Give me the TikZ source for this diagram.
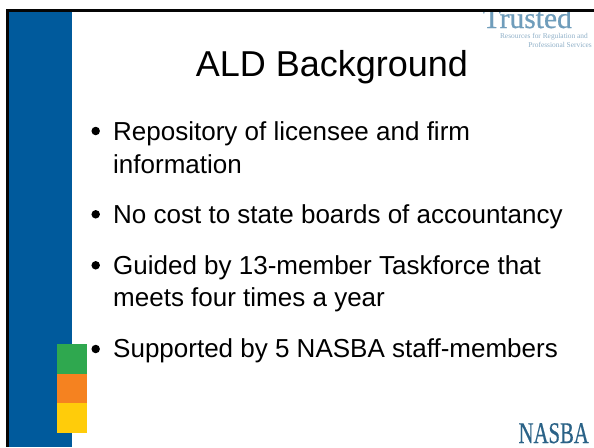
\documentclass[tikz,border=0pt]{standalone}
\usepackage{graphicx}
\usepackage{fontspec}
\setmainfont{Liberation Sans}
\newfontfamily\serifl{Liberation Serif}
\newfontfamily\serifh[FakeBold=0.6]{Liberation Serif}
\definecolor{slateblue}{HTML}{005A9C}
\definecolor{barblack}{HTML}{050505}
\definecolor{tgreen}{HTML}{2FA84F}
\definecolor{torange}{HTML}{F58220}
\definecolor{tyellow}{HTML}{FFCC0A}
\definecolor{logoblue}{HTML}{6F9DBB}
\definecolor{logosmall}{HTML}{8FB0C8}
\definecolor{logonavy}{HTML}{2A6287}
\tikzset{
  x=1pt,y=-1pt,
  bodytext/.style={anchor=base west,inner sep=0pt,font=\fontsize{26}{31}\selectfont,align=left,text=black},
  bulletmark/.style={circle,fill=black,inner sep=0pt,minimum size=8.5pt},
  swatch/.style={inner sep=0pt,outer sep=0pt,anchor=north west,minimum width=30pt,minimum height=29.7pt},
  logosub/.style={anchor=base east,inner sep=0pt,text=logosmall,font=\serifl\fontsize{7.4}{8}\selectfont}
}
\begin{document}
\begin{tikzpicture}
\useasboundingbox (0,0) rectangle (594,447);
\fill[white] (0,0) rectangle (594,447);
\fill[slateblue] (9,11) rectangle (72,447);
\node[anchor=base east,inner sep=0pt,text=logoblue,font=\serifh\fontsize{29.5}{30}\selectfont] (trusted) at (572,28) {Trusted};
\fill[white] (0,0) rectangle (594,9);
\fill[barblack] (6,9) rectangle (594,11.5);
\fill[barblack] (6,9) rectangle (9,447);
\node[swatch,fill=tgreen] (sg) at (57,344) {};
\node[swatch,fill=torange] (so) at (57,373.7) {};
\node[swatch,fill=tyellow] (sy) at (57,403.4) {};
\node[anchor=base,inner sep=0pt,font=\fontsize{36}{43}\selectfont] (title) at (332,76.7) {ALD Background};
\node[bulletmark] (b1) at (95.7,131) {};
\node[bodytext] (t1) at (113,140.7) {Repository of licensee and firm};
\node[bodytext] (t1b) at (113,173.3) {information};
\node[bulletmark] (b2) at (95.7,214.3) {};
\node[bodytext] (t2) at (113,223.3) {No cost to state boards of accountancy};
\node[bulletmark] (b3) at (95.7,265.3) {};
\node[bodytext] (t3) at (113,274) {Guided by 13-member Taskforce that};
\node[bodytext] (t3b) at (113,306.7) {meets four times a year};
\node[bulletmark] (b4) at (95.7,349) {};
\node[bodytext] (t4) at (113,357.3) {Supported by 5 NASBA staff-members};
\node[logosub] (res1) at (588,38) {Resources for Regulation and};
\node[logosub] (res2) at (592,47.7) {Professional Services};
\node[anchor=base east,inner sep=0pt,text=logonavy,font=\serifh\fontsize{30}{30}\selectfont] (nasba) at (589,443) {\scalebox{0.69}[1]{NASBA}};
\end{tikzpicture}
\end{document}
